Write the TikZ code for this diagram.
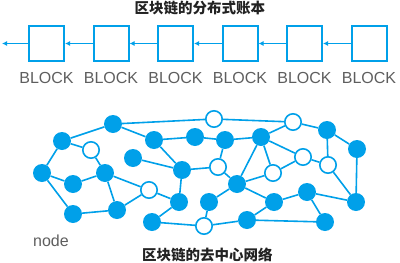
\documentclass[tikz,border=0pt]{standalone}
\usepackage{fontspec}
\setmainfont{Liberation Sans}
\newfontfamily\cjk{Noto Sans CJK SC}
\usepackage{tikz}
\usetikzlibrary{arrows.meta, positioning}
\definecolor{chainblue}{HTML}{00A0E9}
\definecolor{labelgray}{HTML}{5E5E5E}
\definecolor{titleblack}{HTML}{222222}

\begin{document}
\begin{tikzpicture}[
  x=1pt, y=-1pt,
  node distance=27.5pt,
  blk/.style={draw=chainblue, line width=2pt, minimum size=35pt, inner sep=0pt},
  lbl/.style={text=labelgray, font=\fontsize{16}{17}\selectfont, inner sep=0pt},
  ttl/.style={text=titleblack, font=\cjk\bfseries\fontsize{14.5}{15}\selectfont, inner sep=0pt},
  full/.style={circle, fill=chainblue, minimum size=18pt, inner sep=0pt},
  hollow/.style={circle, draw=chainblue, fill=white, line width=1.6pt, minimum size=16.4pt, inner sep=0pt},
  link/.style={chainblue, line width=1.6pt},
  arr/.style={-{Latex[length=5pt, width=5pt]}, line width=1.5pt, chainblue}
]
  \useasboundingbox (0,0) rectangle (400,263);

  % ledger chain
  \node[ttl] (top) at (200,8) {区块链的分布式账本};
  \node[blk] (b1) at (46.5,43.5) {};
  \node[blk, right=of b1] (b2) {};
  \node[blk, right=of b2] (b3) {};
  \node[blk, right=of b3] (b4) {};
  \node[blk, right=of b4] (b5) {};
  \node[blk, right=of b5] (b6) {};
  \coordinate (tail) at (2,43.5);

  \node[lbl, below=10pt of b1] (l1) {BLOCK};
  \node[lbl, below=10pt of b2] (l2) {BLOCK};
  \node[lbl, below=10pt of b3] (l3) {BLOCK};
  \node[lbl, below=10pt of b4] (l4) {BLOCK};
  \node[lbl, below=10pt of b5] (l5) {BLOCK};
  \node[lbl, below=10pt of b6] (l6) {BLOCK};

  \draw[arr] (b1) -- (tail);
  \draw[arr] (b2) -- (b1);
  \draw[arr] (b3) -- (b2);
  \draw[arr] (b4) -- (b3);
  \draw[arr] (b5) -- (b4);
  \draw[arr] (b6) -- (b5);

  % peer network
  \node[full] (a) at (113,124) {};
  \node[full] (b) at (62,141) {};
  \node[hollow] (c) at (91,150) {};
  \node[full] (d) at (42,173) {};
  \node[full] (e) at (73,184) {};
  \node[full] (f) at (105,173) {};
  \node[full] (g) at (154,140) {};
  \node[full] (h) at (133,158) {};
  \node[full] (i) at (182,170) {};
  \node[hollow] (j) at (149,190) {};
  \node[full] (k) at (179,202) {};
  \node[full] (l) at (73,214) {};
  \node[full] (m) at (117,210) {};
  \node[full] (n) at (152,222) {};
  \node[full] (p) at (195,137) {};
  \node[hollow] (r) at (214,119) {};
  \node[hollow] (s) at (218,167) {};
  \node[full] (t) at (209,202) {};
  \node[hollow] (u) at (204,226) {};
  \node[hollow] (v) at (293,122) {};
  \node[full] (w) at (327,130) {};
  \node[full] (x) at (357,149) {};
  \node[full] (y) at (225,140) {};
  \node[full] (z) at (261,137) {};
  \node[hollow] (aa) at (303,157) {};
  \node[hollow] (ab) at (328,165) {};
  \node[hollow] (ac) at (273,173) {};
  \node[full] (ad) at (237,184) {};
  \node[full] (ae) at (274,202) {};
  \node[full] (af) at (307,192) {};
  \node[full] (ag) at (356,202) {};
  \node[full] (ah) at (247,220) {};
  \node[full] (ai) at (325,222) {};

  \draw[link] (a) -- (b);
  \draw[link] (a) -- (g);
  \draw[link] (a) -- (r);
  \draw[link] (b) -- (c);
  \draw[link] (b) -- (d);
  \draw[link] (c) -- (f);
  \draw[link] (d) -- (e);
  \draw[link] (d) -- (l);
  \draw[link] (e) -- (f);
  \draw[link] (f) -- (m);
  \draw[link] (f) -- (j);
  \draw[link] (l) -- (m);
  \draw[link] (m) -- (j);
  \draw[link] (j) -- (k);
  \draw[link] (g) -- (p);
  \draw[link] (g) -- (i);
  \draw[link] (h) -- (i);
  \draw[link] (i) -- (k);
  \draw[link] (k) -- (n);
  \draw[link] (n) -- (u);
  \draw[link] (i) -- (s);
  \draw[link] (p) -- (y);
  \draw[link] (y) -- (s);
  \draw[link] (s) -- (ad);
  \draw[link] (t) -- (u);
  \draw[link] (t) -- (ad);
  \draw[link] (u) -- (ah);
  \draw[link] (y) -- (z);
  \draw[link] (r) -- (v);
  \draw[link] (z) -- (v);
  \draw[link] (v) -- (w);
  \draw[link] (w) -- (x);
  \draw[link] (w) -- (ab);
  \draw[link] (x) -- (ag);
  \draw[link] (z) -- (aa);
  \draw[link] (aa) -- (ab);
  \draw[link] (z) -- (ac);
  \draw[link] (z) -- (ad);
  \draw[link] (ac) -- (aa);
  \draw[link] (ad) -- (ac);
  \draw[link] (ad) -- (ae);
  \draw[link] (ae) -- (af);
  \draw[link] (af) -- (ag);
  \draw[link] (ab) -- (ag);
  \draw[link] (af) -- (ai);
  \draw[link] (ah) -- (ai);
  \draw[link] (ah) -- (ae);

  \node[lbl] (peer) at (51,241) {node};
  \node[ttl] (bottom) at (207.5,255) {区块链的去中心网络};
\end{tikzpicture}
\end{document}
